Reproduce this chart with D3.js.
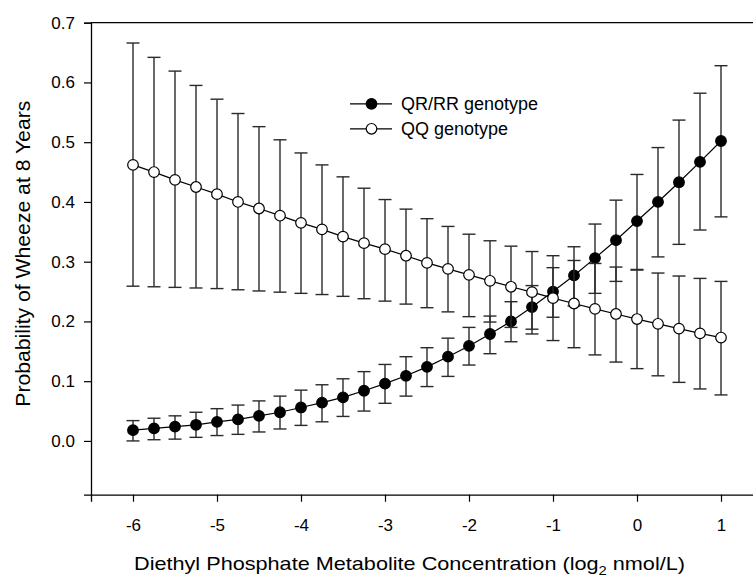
<!DOCTYPE html>
<html>
<head>
<meta charset="utf-8">
<script src="https://cdn.jsdelivr.net/npm/d3@7"></script>
<style>
  html, body { margin: 0; padding: 0; background: #fff; }
  svg { display: block; }
  text { font-family: Arial, "Liberation Sans", sans-serif; fill: #000; }
</style>
</head>
<body>
<svg id="chart" width="753" height="577"></svg>
<script>
// ---- data ----
const xValues = [-6, -5.75, -5.5, -5.25, -5, -4.75, -4.5, -4.25, -4, -3.75, -3.5, -3.25, -3, -2.75, -2.5, -2.25, -2, -1.75, -1.5, -1.25, -1, -0.75, -0.5, -0.25, 0, 0.25, 0.5, 0.75, 1];

const qrMean  = [0.018, 0.021, 0.024, 0.027, 0.032, 0.036, 0.042, 0.048, 0.056, 0.064, 0.073, 0.084, 0.096, 0.109, 0.124, 0.141, 0.159, 0.179, 0.200, 0.224, 0.250, 0.277, 0.306, 0.336, 0.368, 0.400, 0.433, 0.467, 0.502];
const qrUpper = [0.034, 0.038, 0.042, 0.048, 0.054, 0.060, 0.067, 0.075, 0.085, 0.094, 0.104, 0.116, 0.128, 0.141, 0.156, 0.172, 0.190, 0.209, 0.233, 0.260, 0.290, 0.325, 0.363, 0.403, 0.446, 0.491, 0.537, 0.582, 0.628];
const qrLower = [0.000, 0.002, 0.003, 0.006, 0.009, 0.011, 0.015, 0.020, 0.026, 0.032, 0.041, 0.050, 0.063, 0.075, 0.091, 0.108, 0.127, 0.146, 0.166, 0.187, 0.207, 0.226, 0.247, 0.267, 0.287, 0.308, 0.329, 0.353, 0.375];

const qqMean  = [0.462, 0.450, 0.437, 0.425, 0.413, 0.400, 0.389, 0.377, 0.365, 0.354, 0.342, 0.331, 0.321, 0.310, 0.298, 0.288, 0.278, 0.268, 0.258, 0.249, 0.239, 0.230, 0.221, 0.2125, 0.204, 0.196, 0.188, 0.180, 0.173];
const qqUpper = [0.666, 0.642, 0.619, 0.595, 0.572, 0.548, 0.526, 0.504, 0.482, 0.462, 0.442, 0.423, 0.404, 0.388, 0.372, 0.359, 0.346, 0.335, 0.326, 0.317, 0.310, 0.302, 0.297, 0.291, 0.286, 0.281, 0.276, 0.272, 0.267];
const qqLower = [0.259, 0.258, 0.257, 0.256, 0.255, 0.253, 0.251, 0.249, 0.247, 0.245, 0.242, 0.238, 0.234, 0.229, 0.223, 0.216, 0.208, 0.199, 0.190, 0.179, 0.168, 0.156, 0.144, 0.132, 0.121, 0.109, 0.098, 0.087, 0.077];

const seriesNames = ["QR/RR genotype", "QQ genotype"];
const xTicks = [-6, -5, -4, -3, -2, -1, 0, 1];
const yTicks = [0.0, 0.1, 0.2, 0.3, 0.4, 0.5, 0.6, 0.7];
const xTitle = "Diethyl Phosphate Metabolite Concentration (log";
const xTitleSub = "2";
const xTitleEnd = " nmol/L)";
const yTitle = "Probability of Wheeze at 8 Years";

// ---- build ----
const series = [
  { name: seriesNames[0], mean: qrMean, lo: qrLower, hi: qrUpper, fill: "#000" },
  { name: seriesNames[1], mean: qqMean, lo: qqLower, hi: qqUpper, fill: "#fff" }
];

const svg = d3.select("#chart");
const x = d3.scaleLinear().domain([-6.5, 1.5]).range([91, 763]);
const y = d3.scaleLinear().domain([-0.09, 0.7]).range([494.7, 22.7]);

// axes
const gx = svg.append("g").attr("transform", `translate(0,${y(-0.09)})`)
  .call(d3.axisBottom(x).tickValues(xTicks).tickFormat(d3.format("d")).tickSizeOuter(0).tickSize(7).tickPadding(17));
const gy = svg.append("g").attr("transform", `translate(${x(-6.5)},0)`)
  .call(d3.axisLeft(y).tickValues(yTicks).tickFormat(d3.format(".1f")).tickSizeOuter(0).tickSize(7).tickPadding(9));
[gx, gy].forEach(g => {
  g.selectAll("path.domain").attr("stroke", "#000").attr("stroke-width", 1.3);
  g.selectAll(".tick line").attr("stroke", "#000").attr("stroke-width", 1.2);
  g.selectAll(".tick text").attr("font-size", 17).attr("font-family", "Arial, 'Liberation Sans', sans-serif").attr("fill", "#000");
});
gx.selectAll(".tick text").text(d => d < 0 ? "-" + Math.abs(d) : String(d));
// top frame line
svg.append("line")
  .attr("x1", x(-6.5)).attr("x2", x(1.5))
  .attr("y1", y(0.7)).attr("y2", y(0.7))
  .attr("stroke", "#000").attr("stroke-width", 1.3);

const capW = 6.5;
const line = d3.line().x((d, i) => x(xValues[i])).y(d => y(d));

series.forEach(s => {
  const g = svg.append("g");
  // error bars
  const eb = g.append("g").attr("stroke", "#2a2a2a").attr("stroke-width", 1.4).attr("fill", "none");
  xValues.forEach((xv, i) => {
    const cx = x(xv);
    eb.append("line").attr("x1", cx).attr("x2", cx).attr("y1", y(s.lo[i])).attr("y2", y(s.hi[i]));
    eb.append("line").attr("x1", cx - capW).attr("x2", cx + capW).attr("y1", y(s.hi[i])).attr("y2", y(s.hi[i]));
    eb.append("line").attr("x1", cx - capW).attr("x2", cx + capW).attr("y1", y(s.lo[i])).attr("y2", y(s.lo[i]));
  });
  // line
  g.append("path").attr("d", line(s.mean)).attr("fill", "none").attr("stroke", "#000").attr("stroke-width", 1.2);
  // markers
  g.selectAll("circle").data(s.mean).join("circle")
    .attr("cx", (d, i) => x(xValues[i])).attr("cy", d => y(d))
    .attr("r", 5.3).attr("fill", s.fill).attr("stroke", "#000").attr("stroke-width", 1.2);
});

// legend
const legY = [103.8, 128.8];
series.forEach((s, i) => {
  const g = svg.append("g");
  g.append("line").attr("x1", 350).attr("x2", 392).attr("y1", legY[i]).attr("y2", legY[i])
    .attr("stroke", "#000").attr("stroke-width", 1.2);
  g.append("circle").attr("cx", 371.5).attr("cy", legY[i]).attr("r", 5.3)
    .attr("fill", s.fill).attr("stroke", "#000").attr("stroke-width", 1.2);
  g.append("text").attr("x", 401).attr("y", legY[i] + 6.3).attr("font-size", 18).text(s.name);
});

// axis titles
const xt = svg.append("text").attr("x", 134).attr("y", 569.5).attr("font-size", 19)
  .attr("textLength", 551).attr("lengthAdjust", "spacingAndGlyphs");
xt.append("tspan").text(xTitle);
xt.append("tspan").attr("font-size", 13).attr("dy", 5).text(xTitleSub);
xt.append("tspan").attr("dy", -5).text(xTitleEnd);

svg.append("text")
  .attr("transform", "translate(29.5,406.7) rotate(-90)")
  .attr("font-size", 21)
  .attr("textLength", 306).attr("lengthAdjust", "spacingAndGlyphs")
  .text(yTitle);
</script>
</body>
</html>
